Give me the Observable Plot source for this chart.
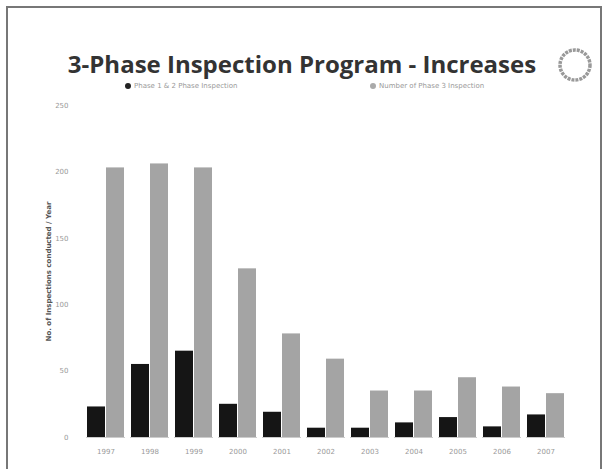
<!DOCTYPE html>
<html>
<head>
<meta charset="utf-8">
<script src="https://cdn.jsdelivr.net/npm/d3@7"></script>
<script src="https://cdn.jsdelivr.net/npm/@observablehq/plot@0.6"></script>
<style>
  body { margin: 0; background: #fff; font-family: "DejaVu Sans", sans-serif; }
  #frame { position: absolute; left: 6px; top: 6px; width: 596px; height: 470px; border: 2px solid #777; border-bottom: none; box-sizing: border-box; }
  #title { position: absolute; left: 0; top: 47px; width: 604px; text-align: center; font-family: "Open Sans", "DejaVu Sans", sans-serif; font-weight: bold; font-size: 24px; color: #333; }
  #logo { position: absolute; left: 556px; top: 46px; }
  #legend { position: absolute; top: 82px; left: 0; width: 608px; font-size: 7px; color: #999; }
  .li { position: absolute; white-space: nowrap; }
  .sw { display: inline-block; width: 6px; height: 6px; border-radius: 50%; margin-right: 3px; vertical-align: middle; }
  #chart { position: absolute; left: 0; top: 97px; }
</style>
</head>
<body>
<div id="frame"></div>
<div id="title">3-Phase Inspection Program - Increases</div>
<svg id="logo" width="40" height="40"><circle cx="19" cy="19" r="15" fill="none" stroke="#999" stroke-width="3.5" stroke-dasharray="3 1"/></svg>
<div id="legend">
  <span class="li" style="left:125px"><span class="sw" style="background:#222"></span>Phase 1 &amp; 2 Phase Inspection</span>
  <span class="li" style="left:370px"><span class="sw" style="background:#aaa"></span>Number of Phase 3 Inspection</span>
</div>
<div id="chart"></div>
<script>
const years = ["1997","1998","1999","2000","2001","2002","2003","2004","2005","2006","2007"];
const seriesNames = ["Phase 1 & 2", "Phase 3"];
const phase12 = [23, 55, 65, 25, 19, 7, 7, 11, 15, 8, 17];
const phase3 = [203, 206, 203, 127, 78, 59, 35, 35, 45, 38, 33];
const yTicks = [0, 50, 100, 150, 200, 250];

const data = [];
years.forEach((y, i) => {
  data.push({year: y, series: seriesNames[0], value: phase12[i]});
  data.push({year: y, series: seriesNames[1], value: phase3[i]});
});

const chart = Plot.plot({
  width: 608,
  height: 370,
  marginTop: 8,
  marginBottom: 30,
  marginLeft: 82,
  marginRight: 40,
  style: {fontFamily: "DejaVu Sans, sans-serif", fontSize: "7px", color: "#999", background: "transparent"},
  fx: {domain: years, padding: 0.12, label: null, axis: "bottom", tickSize: 0, tickPadding: 12},
  x: {domain: seriesNames, padding: 0.04, axis: null},
  y: {domain: [0, 250], ticks: yTicks, label: "No. of Inspections conducted / Year", labelAnchor: "center", labelOffset: 38},
  color: {domain: seriesNames, range: ["#151515", "#a4a4a4"]},
  marks: [
    Plot.axisY({ticks: yTicks, tickSize: 0, tickPadding: 18, label: "No. of Inspections conducted / Year", labelAnchor: "center", labelOffset: 40, labelArrow: "none", fill: "#999"}),
    Plot.ruleX([0], {frameAnchor: "left", stroke: "#ddd", dx: -4}),
    Plot.barY(data, {fx: "year", x: "series", y: "value", fill: "series"}),
    Plot.ruleY([0], {stroke: "#ccc"})
  ]
});
chart.querySelectorAll("[aria-label='y-axis label'] text").forEach(t => { t.setAttribute("fill", "#555"); t.style.fontWeight = "bold"; });
document.getElementById("chart").appendChild(chart);
</script>
</body>
</html>
